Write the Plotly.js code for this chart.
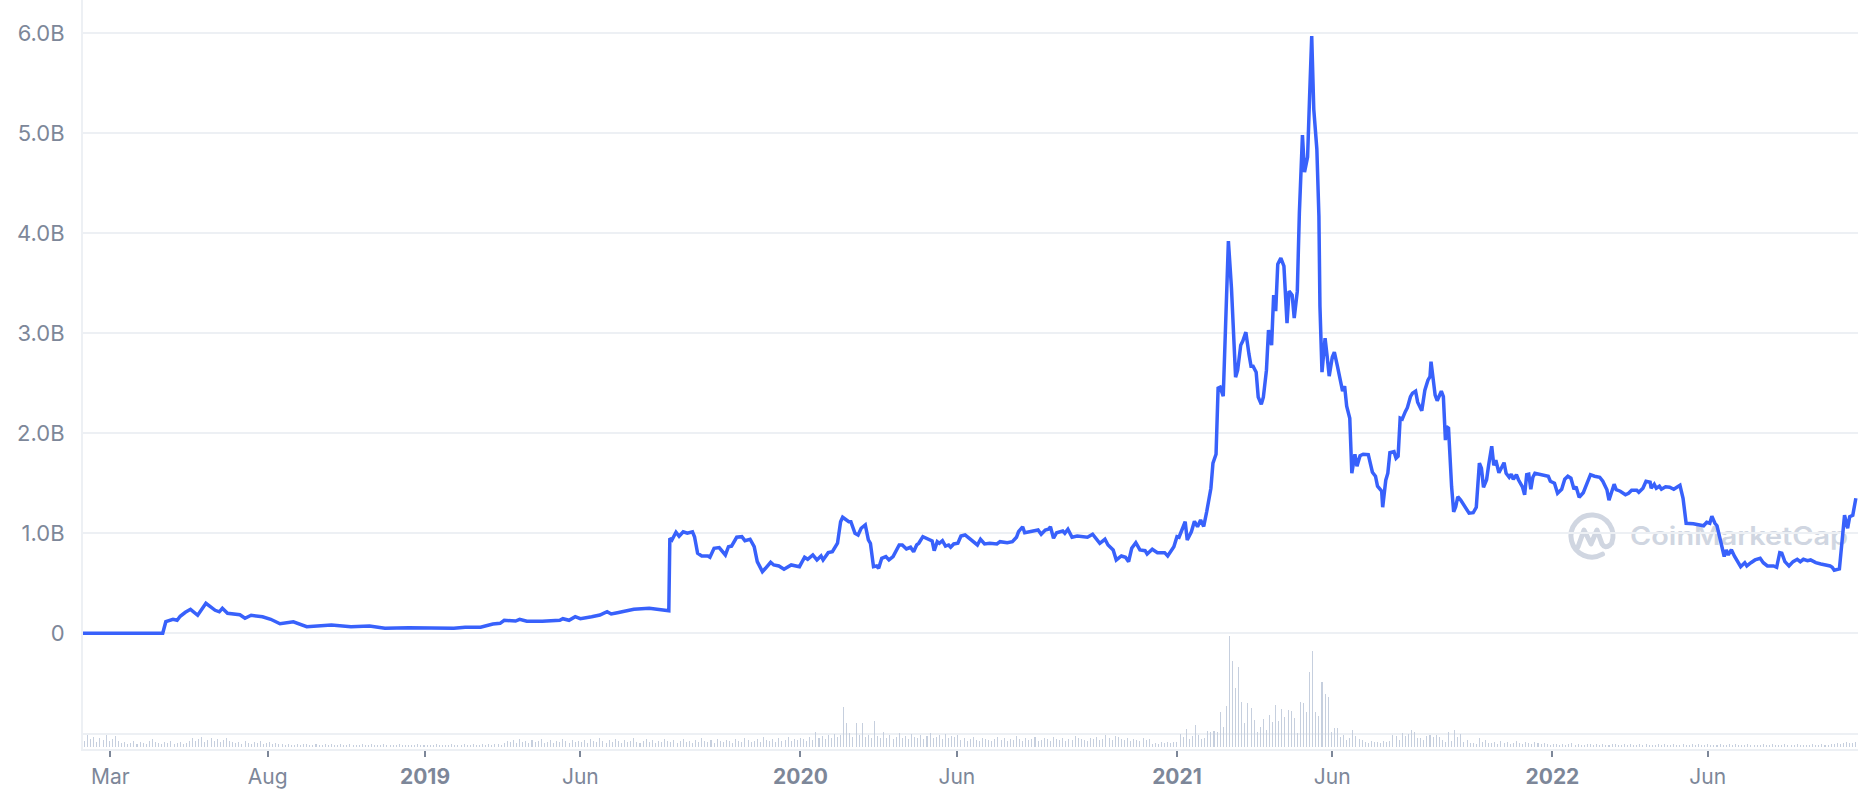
<!DOCTYPE html>
<html>
<head>
<meta charset="utf-8">
<script src="https://cdn.plot.ly/plotly-3.0.1.min.js"></script>
<style>
  html, body { margin: 0; padding: 0; background: #ffffff; }
  #chart { width: 1858px; height: 800px; }
</style>
</head>
<body>
<div id="chart"></div>
<script>
// ---- Market cap line (values in billions USD) ----
const dates = [
'2018-02-02','2018-04-21','2018-04-24','2018-05-01','2018-05-05','2018-05-08','2018-05-13','2018-05-18','2018-05-25','2018-06-02',
'2018-06-11','2018-06-15','2018-06-18','2018-06-23','2018-07-05','2018-07-10','2018-07-16','2018-07-27','2018-08-04','2018-08-13',
'2018-08-26','2018-09-04','2018-09-08','2018-10-02','2018-10-21','2018-11-08','2018-11-23','2018-12-16','2019-01-03','2019-01-29',
'2019-02-09','2019-02-24','2019-03-08','2019-03-15','2019-03-19','2019-03-30','2019-04-03','2019-04-10','2019-04-25','2019-05-12',
'2019-05-15','2019-05-21','2019-05-27','2019-06-01','2019-06-12','2019-06-20','2019-06-27','2019-07-01','2019-07-07','2019-07-12',
'2019-07-23','2019-08-07','2019-08-14','2019-08-24','2019-08-26','2019-08-27','2019-08-29','2019-09-02','2019-09-05','2019-09-09',
'2019-09-13','2019-09-18','2019-09-20','2019-09-23','2019-09-27','2019-10-03','2019-10-05','2019-10-09','2019-10-14','2019-10-20',
'2019-10-23','2019-10-26','2019-10-31','2019-11-05','2019-11-08','2019-11-13','2019-11-17','2019-11-20','2019-11-25','2019-11-28',
'2019-12-03','2019-12-06','2019-12-11','2019-12-16','2019-12-23','2019-12-31','2020-01-05','2020-01-08','2020-01-13','2020-01-17',
'2020-01-21','2020-01-23','2020-01-28','2020-02-01','2020-02-06','2020-02-09','2020-02-11','2020-02-17','2020-02-19','2020-02-23',
'2020-02-26','2020-02-29','2020-03-04','2020-03-07','2020-03-09','2020-03-12','2020-03-15','2020-03-17','2020-03-20','2020-03-24',
'2020-03-27','2020-03-31','2020-04-06','2020-04-09','2020-04-13','2020-04-17','2020-04-20','2020-04-23','2020-04-25','2020-04-29',
'2020-05-05','2020-05-08','2020-05-10','2020-05-13','2020-05-15','2020-05-18','2020-05-21','2020-05-24','2020-05-26','2020-05-29',
'2020-06-02','2020-06-05','2020-06-09','2020-06-14','2020-06-18','2020-06-21','2020-06-24','2020-06-28','2020-07-03','2020-07-10',
'2020-07-13','2020-07-20','2020-07-25','2020-07-29','2020-07-31','2020-08-04','2020-08-06','2020-08-13','2020-08-19','2020-08-22',
'2020-08-26','2020-08-29','2020-08-31','2020-09-03','2020-09-06','2020-09-12','2020-09-14','2020-09-17','2020-09-21','2020-09-26',
'2020-10-03','2020-10-06','2020-10-11','2020-10-16','2020-10-18','2020-10-23','2020-10-26','2020-10-31','2020-11-03','2020-11-08',
'2020-11-12','2020-11-15','2020-11-18','2020-11-22','2020-11-26','2020-12-01','2020-12-03','2020-12-08','2020-12-13','2020-12-20',
'2020-12-23','2020-12-29','2021-01-01','2021-01-03','2021-01-09','2021-01-11','2021-01-15','2021-01-18','2021-01-21','2021-01-24',
'2021-01-27','2021-01-30','2021-02-03','2021-02-05','2021-02-08','2021-02-10','2021-02-12','2021-02-15','2021-02-17','2021-02-20',
'2021-02-23','2021-02-25','2021-02-27','2021-03-01','2021-03-04','2021-03-06','2021-03-09','2021-03-12','2021-03-14','2021-03-16',
'2021-03-19','2021-03-21','2021-03-24','2021-03-26','2021-03-29','2021-03-31','2021-04-03','2021-04-05','2021-04-07','2021-04-09',
'2021-04-12','2021-04-15','2021-04-18','2021-04-20','2021-04-23','2021-04-25','2021-04-28','2021-04-30','2021-05-03','2021-05-05',
'2021-05-08','2021-05-10','2021-05-12','2021-05-14','2021-05-17','2021-05-19','2021-05-20','2021-05-22','2021-05-25','2021-05-27',
'2021-05-29','2021-06-01','2021-06-03','2021-06-06','2021-06-09','2021-06-11','2021-06-13','2021-06-15','2021-06-18','2021-06-20',
'2021-06-23','2021-06-25','2021-06-28','2021-07-01','2021-07-06','2021-07-10','2021-07-13','2021-07-15','2021-07-19','2021-07-20',
'2021-07-23','2021-07-25','2021-07-27','2021-07-31','2021-08-02','2021-08-04','2021-08-06','2021-08-08','2021-08-11','2021-08-13',
'2021-08-16','2021-08-18','2021-08-21','2021-08-23','2021-08-27','2021-08-30','2021-09-02','2021-09-04','2021-09-05','2021-09-07',
'2021-09-09','2021-09-11','2021-09-13','2021-09-15','2021-09-17','2021-09-19','2021-09-20','2021-09-22','2021-09-25','2021-09-27',
'2021-09-29','2021-10-01','2021-10-04','2021-10-08','2021-10-12','2021-10-16','2021-10-19','2021-10-22','2021-10-24','2021-10-26',
'2021-10-29','2021-10-31','2021-11-03','2021-11-05','2021-11-07','2021-11-10','2021-11-13','2021-11-15','2021-11-17','2021-11-20',
'2021-11-22','2021-11-24','2021-11-27','2021-11-29','2021-12-03','2021-12-05','2021-12-07','2021-12-09','2021-12-11','2021-12-13',
'2021-12-15','2021-12-19','2021-12-23','2021-12-28','2021-12-30','2022-01-03','2022-01-06','2022-01-10','2022-01-13','2022-01-16',
'2022-01-19','2022-01-22','2022-01-24','2022-01-27','2022-01-31','2022-02-03','2022-02-07','2022-02-11','2022-02-16','2022-02-19',
'2022-02-23','2022-02-25','2022-02-28','2022-03-02','2022-03-04','2022-03-08','2022-03-13','2022-03-16','2022-03-19','2022-03-24',
'2022-03-26','2022-03-30','2022-04-02','2022-04-06','2022-04-07','2022-04-10','2022-04-12','2022-04-15','2022-04-17','2022-04-21',
'2022-04-25','2022-04-29','2022-05-02','2022-05-05','2022-05-08','2022-05-11','2022-05-18','2022-05-24','2022-05-28','2022-05-31',
'2022-06-03','2022-06-05','2022-06-08','2022-06-10','2022-06-12','2022-06-14','2022-06-17','2022-06-19','2022-06-21','2022-06-24',
'2022-06-27','2022-06-30','2022-07-03','2022-07-07','2022-07-09','2022-07-13','2022-07-17','2022-07-22','2022-07-25','2022-07-29',
'2022-08-04','2022-08-07','2022-08-10','2022-08-12','2022-08-15','2022-08-19','2022-08-23','2022-08-27','2022-08-30','2022-09-02',
'2022-09-06','2022-09-09','2022-09-14','2022-09-19','2022-09-24','2022-09-28','2022-09-30','2022-10-02','2022-10-07','2022-10-09',
'2022-10-12','2022-10-15','2022-10-17','2022-10-20','2022-10-23'
];
const marketCapB = [
0,0,0.116,0.14,0.13,0.17,0.21,0.24,0.18,0.30,
0.23,0.215,0.25,0.20,0.185,0.15,0.18,0.165,0.14,0.095,
0.115,0.085,0.066,0.083,0.066,0.073,0.05,0.056,0.056,0.05,
0.06,0.06,0.093,0.10,0.13,0.123,0.14,0.12,0.12,0.13,
0.146,0.13,0.166,0.146,0.166,0.183,0.216,0.193,0.206,0.216,
0.24,0.25,0.243,0.233,0.225,0.95,0.933,1.01,0.97,1.015,
1.0,1.015,0.965,0.80,0.773,0.773,0.76,0.85,0.857,0.783,
0.866,0.872,0.96,0.966,0.926,0.94,0.866,0.716,0.616,0.65,
0.71,0.683,0.673,0.64,0.683,0.666,0.76,0.74,0.783,0.733,
0.773,0.733,0.806,0.816,0.9,1.115,1.16,1.115,1.115,1.0,
0.983,1.05,1.083,0.933,0.9,0.666,0.673,0.65,0.75,0.766,
0.733,0.766,0.883,0.883,0.843,0.86,0.816,0.883,0.9,0.966,
0.94,0.923,0.826,0.916,0.9,0.926,0.872,0.883,0.86,0.893,
0.9,0.972,0.983,0.94,0.916,0.883,0.94,0.893,0.9,0.893,
0.916,0.906,0.916,0.96,1.015,1.065,1.005,1.015,1.032,0.99,
1.032,1.04,1.065,0.95,1.005,1.022,0.999,1.04,0.96,0.972,
0.966,0.96,0.99,0.933,0.9,0.94,0.883,0.833,0.733,0.773,
0.76,0.716,0.85,0.906,0.833,0.826,0.793,0.84,0.806,0.806,
0.773,0.866,0.966,0.96,1.115,0.933,1.015,1.12,1.065,1.132,
1.068,1.22,1.45,1.70,1.79,2.45,2.46,2.37,3.10,3.92,
3.45,3.06,2.56,2.63,2.88,2.92,3.01,2.79,2.67,2.67,
2.61,2.36,2.29,2.36,2.63,3.03,2.88,3.38,3.22,3.69,
3.75,3.67,3.10,3.42,3.38,3.15,3.42,4.20,4.98,4.61,
4.76,5.38,5.97,5.24,4.84,4.17,3.27,2.61,2.95,2.77,
2.57,2.76,2.81,2.67,2.49,2.42,2.47,2.27,2.15,1.60,
1.79,1.67,1.775,1.79,1.785,1.61,1.57,1.47,1.42,1.26,
1.53,1.60,1.805,1.815,1.75,1.77,2.15,2.14,2.215,2.255,
2.365,2.40,2.42,2.31,2.225,2.43,2.53,2.565,2.715,2.53,
2.38,2.325,2.38,2.42,2.365,1.93,2.065,2.05,1.465,1.215,
1.265,1.365,1.33,1.27,1.20,1.205,1.26,1.70,1.65,1.46,
1.535,1.68,1.87,1.68,1.73,1.605,1.665,1.705,1.60,1.56,
1.59,1.54,1.585,1.535,1.46,1.385,1.585,1.59,1.44,1.56,
1.60,1.59,1.585,1.57,1.52,1.50,1.40,1.44,1.54,1.57,
1.55,1.44,1.465,1.36,1.405,1.49,1.585,1.57,1.56,1.52,
1.435,1.33,1.435,1.49,1.435,1.42,1.385,1.40,1.43,1.43,
1.41,1.45,1.52,1.51,1.45,1.49,1.45,1.47,1.44,1.465,
1.46,1.44,1.46,1.48,1.35,1.10,1.095,1.085,1.075,1.11,
1.10,1.17,1.10,1.075,0.97,0.90,0.767,0.833,0.783,0.836,
0.77,0.716,0.666,0.706,0.673,0.706,0.733,0.75,0.706,0.673,
0.673,0.66,0.806,0.80,0.716,0.673,0.716,0.74,0.716,0.74,
0.726,0.733,0.706,0.693,0.683,0.673,0.66,0.63,0.643,0.866,
1.18,1.05,1.165,1.18,1.35
];

// ---- Volume bars (relative units), one bar every 3 days from volumeStart ----
const volumeStart = '2018-02-04';
const volumeStepDays = 3;
const volume = [
6,12,8,10,5,9,7,12,6,8,11,6,
4,5,3,4,6,3,5,4,3,6,8,5,4,3,5,4,6,3,4,5,3,4,6,
9,6,8,10,5,7,9,6,8,5,7,9,6,5,
4,5,3,6,4,3,5,4,6,3,4,5,3,4,3,
3,2,3,2,2,3,2,3,3,2, 2,3,2,2,3,2,3,2,2,3, 2,2,3,2,2,2,3,2,2,3, 2,2,2,3,2,2,2,2,3,2,
2,2,2,2,3,2,2,2,2,2, 3,2,2,2,2,3,2,2,2,3, 2,2,3,2,2,3,2,3,2,3, 3,2,
4,6,5,7,4,8,5,6,4,7,5,6,8,4,5,7,4,6,5,8,6,4,7,5,6,
5,7,4,8,6,5,9,6,4,7, 5,8,6,4,7,5,6,9,5,4, 6,8,5,7,4,6,5,8,6,5, 7,4,6,8,5,6,4,7,5,9,
6,5,7,4,8,6,5,7,6,4, 8,6,5,9,7,5,6,8,5,10, 7,6,8,5,9,6,7,10,6,8, 7,9,
8,6,10,7,15,9,11,8,12,9,13,10,12,
40,24,14,10,24,12,24,10,12,9,26,11,9,15,9,
12,8,10,14,9,11,8,13,10,9,12,8,11,14,9,10,12,8,13,9,11,10,12,
7,9,6,8,10,7,6,9,8,7, 6,8,10,7,9,6,8,7,11,8, 6,9,7,8,10,6,7,9,8,6, 10,8,7,9,6,8,7,11,9,8,
7,6,9,8,10,7,8,12,9,7, 11,10,8,7,9,6,8,7,6,9, 7,8,
3,4,3,5,4,5,4,5,5,13,
10,18,8,11,22,12,8,9,16,15,
16,15,35,20,41,111,86,59,80,45,
24,44,39,27,15,20,28,17,32,25,
42,26,38,30,37,36,29,14,45,44,
35,75,96,35,31,65,53,50,15,19,
19,10,12,7,9,17,11,8,7,5,
4,6,5,5,4,6,5,6,12,11,
7,14,11,13,17,15,9,9,7,11,
12,10,12,10,7,5,15,6,17,10,
13,5,7,4,4,3,9,5,7,4,
4,5,3,6,4,5,3,4,6,4,3,5,4,3,5,4,3,4,
3,2,3,3,2,3,2,3,4,2, 3,2,2,3,3,2,3,2,3,2, 2,3,3,2,2,3,2,3,2,2, 3,2,3,2,2,2,3,2,3,2,
2,3,2,2,3,2,2,3,2,3, 2,2,3,2,2,2,3,2,2,3, 2,3,2,2,2,3,2,2,2,2, 3,2,2,3,2,2,2,3,2,2,
2,3,2,2,2,2,3,2,2,3, 2,2,3,3,4,3,4,5,4,4, 5
];

// ---- Axis ticks ----
const xTickVals = ['2018-03-01','2018-08-01','2019-01-01','2019-06-01','2020-01-01','2020-06-01','2021-01-01','2021-06-01','2022-01-01','2022-06-01'];
const xTickText = ['Mar','Aug','<b>2019</b>','Jun','<b>2020</b>','Jun','<b>2021</b>','Jun','<b>2022</b>','Jun'];
const yTickVals = [0,1,2,3,4,5,6];
const yTickText = ['0','1.0B','2.0B','3.0B','4.0B','5.0B','6.0B'];

const DAY = 86400000;
const gridColor = '#edf0f4';
const labelColor = '#7d8799';

const watermarkSvg =
  "<svg xmlns='http://www.w3.org/2000/svg' width='290' height='56' viewBox='0 0 290 56'>" +
  "<g fill='none' stroke='#d0d6e1' stroke-width='5' stroke-linecap='round' stroke-linejoin='round'>" +
  "<path d='M37.5 46.2 A21 21 0 1 1 46.7 35.2'/>" +
  "<path d='M13 39 L19 22 L26 36 L32 22 L37 36 Q40 41 45 37'/>" +
  "</g>" +
  "<text x='65' y='37' font-family='Inter, Lato, sans-serif' font-weight='600' font-size='25' fill='#d0d6e1' textLength='218' lengthAdjust='spacingAndGlyphs'>CoinMarketCap</text>" +
  "</svg>";
const watermarkUri = 'data:image/svg+xml;charset=utf-8,' + encodeURIComponent(watermarkSvg);

const traces = [
  {
    type: 'scatter', mode: 'lines',
    x: dates, y: marketCapB,
    line: { color: '#3861fb', width: 3.5, shape: 'linear' },
    hoverinfo: 'skip', showlegend: false
  },
  {
    type: 'bar',
    x0: volumeStart, dx: volumeStepDays * DAY,
    y: volume, yaxis: 'y2',
    width: DAY,
    marker: { color: '#c6cfde', line: { width: 0 } },
    hoverinfo: 'skip', showlegend: false
  }
];

const layout = {
  width: 1858, height: 800,
  margin: { l: 83, r: 0, t: 0, b: 51, pad: 0 },
  paper_bgcolor: '#ffffff',
  plot_bgcolor: 'rgba(0,0,0,0)',
  font: { family: 'Inter, "Noto Sans", sans-serif', color: labelColor, size: 20 },
  showlegend: false,
  bargap: 0,
  xaxis: {
    type: 'date',
    range: ['2018-02-02 12:00', '2022-10-25 02:00'],
    tickmode: 'array', tickvals: xTickVals, ticktext: xTickText,
    ticks: 'outside', ticklen: 6, tickwidth: 2, tickcolor: '#7d8799',
    ticklabelstandoff: 2,
    tickfont: { family: 'Inter, sans-serif', size: 21, color: labelColor },
    showgrid: false, zeroline: false,
    showline: true, linecolor: gridColor, linewidth: 2,
    fixedrange: true
  },
  yaxis: {
    range: [-1.1564, 6.3298],
    tickmode: 'array', tickvals: yTickVals, ticktext: yTickText,
    ticks: '', ticklabelstandoff: 12,
    tickfont: { family: 'Inter, sans-serif', size: 22, color: labelColor },
    showgrid: true, gridcolor: gridColor, gridwidth: 2,
    zeroline: false,
    showline: true, linecolor: gridColor, linewidth: 2,
    fixedrange: true
  },
  yaxis2: {
    overlaying: 'y',
    range: [-2, 747],
    tickmode: 'array', tickvals: [13],
    showticklabels: false, ticks: '',
    showgrid: true, gridcolor: gridColor, gridwidth: 2,
    zeroline: false, showline: false,
    fixedrange: true
  },
  images: [{
    source: watermarkUri,
    xref: 'paper', yref: 'paper',
    x: (1565 - 83) / 1775, y: 1 - 508 / 749,
    sizex: 290 / 1775, sizey: 56 / 749,
    xanchor: 'left', yanchor: 'top',
    sizing: 'stretch', layer: 'below'
  }]
};

Plotly.newPlot('chart', traces, layout, { staticPlot: true, displayModeBar: false });
</script>
</body>
</html>
